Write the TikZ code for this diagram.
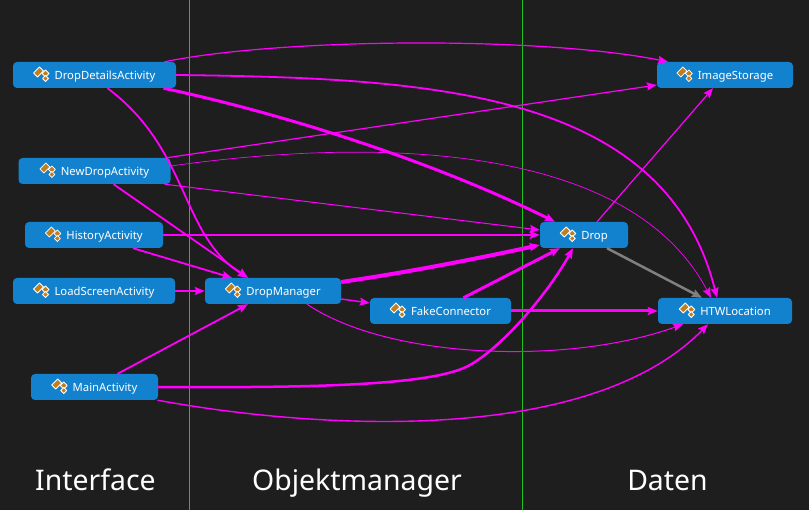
\documentclass[tikz,border=0pt]{standalone}
\usepackage{fontspec}
\setmainfont{Noto Sans}
\usetikzlibrary{arrows.meta}
\definecolor{bgdark}{HTML}{1E1E1E}
\definecolor{nodeblue}{HTML}{1382CE}
\definecolor{iconorange}{HTML}{C27D1E}
\definecolor{linkmagenta}{HTML}{FF00FF}
\definecolor{linkgray}{HTML}{808080}
\definecolor{layerline}{HTML}{1CC41C}
\tikzset{
    classbox/.style={fill=nodeblue,rounded corners=4pt,text=white,inner sep=0pt,minimum height=26pt,
        text height=10pt,text depth=1pt,
        font=\fontsize{11.3}{14}\selectfont,execute at begin node={\hspace*{21pt}}},
    link/.style={-{Stealth[length=10pt,width=8pt,inset=1.5pt]},linkmagenta,line width=#1},
    link/.default=1.8pt,
    layername/.style={text=white,font=\fontsize{28.4}{34}\selectfont,inner sep=0pt,text height=24pt,text depth=4pt},
    iconpart/.style={draw=white,fill=iconorange,line width=.8pt,line join=round},
    classicon/.pic={
        \draw[iconpart] (-8,-1) -- (-2,-7) -- (2,-3) -- (-4,3) -- cycle;
        \draw[iconpart] (4,-4) -- (7.5,-.5) -- (4,3) -- (.5,-.5) -- cycle;
        \draw[iconpart] (4,1.5) -- (7,4.5) -- (4,7.5) -- (1,4.5) -- cycle;
    }
}
\begin{document}
\begin{tikzpicture}[x=1pt,y=-1pt]
\fill[bgdark] (0,0) rectangle (809,510);
\useasboundingbox (0,0) rectangle (809,510);
\coordinate (linetopa) at (189,0);
\coordinate (linebota) at (189,510);
\coordinate (linetopb) at (522,0);
\coordinate (linebotb) at (522,510);
\draw[layerline,line width=.8pt] (linetopa) -- (linebota);
\draw[layerline,line width=.8pt] (linetopb) -- (linebotb);
% classes
\foreach \name/\x/\y/\w/\txt in {
    dda/94.5/75/163/DropDetailsActivity,
    nda/94.5/171/152/NewDropActivity,
    hist/94/235/138/HistoryActivity,
    load/94/291/162/LoadScreenActivity,
    main/94.5/387/127/MainActivity,
    mgr/273/291/136/DropManager,
    fake/440.5/311/141/FakeConnector,
    drop/584/235/88/Drop,
    htw/725/311/134/HTWLocation,
    img/725/75/136/ImageStorage} {
    \node[classbox,minimum width=\w pt] (\name) at (\x,\y) {\txt};
    \pic at ([xshift=8pt,yshift=5.5pt]\name.text) {classicon};
}
% links
\draw[link=1.2pt] ([xshift=70pt]dda.north) .. controls (280,38) and (540,36) .. ([xshift=-57pt]img.north);
\draw[link] (dda.east) .. controls (430,78) and (665,90) .. ([xshift=-8pt]htw.north);
\draw[link=3pt] ([xshift=69pt]dda.south) .. controls (280,113) and (430,160) .. ([xshift=-29pt]drop.north);
\draw[link] ([xshift=13pt]dda.south) .. controls (190,150) and (180,235) .. ([xshift=-25pt]mgr.north);
\draw[link=1.2pt] ([xshift=72pt]nda.north) -- ([yshift=-10pt]img.west);
\draw[link=.7pt] ([yshift=5pt]nda.east) .. controls (320,145) and (620,125) .. ([xshift=-14pt]htw.north);
\draw[link=1pt] ([xshift=70pt]nda.south) -- ([yshift=5pt]drop.west);
\draw[link] ([xshift=19pt]nda.south) -- ([xshift=-25pt]mgr.north);
\draw[link] (hist.east) -- (drop.west);
\draw[link] ([xshift=39pt]hist.south) -- ([xshift=-41pt]mgr.north);
\draw[link] (load.east) -- (mgr.west);
\draw[link] ([xshift=23pt]main.north) -- ([xshift=-25pt]mgr.south);
\draw[link=2.5pt] (main.east) .. controls (320,388) and (435,385) .. (470,365) .. controls (505,345) and (550,290) .. ([xshift=-11pt]drop.south);
\draw[link=1.4pt] ([xshift=63pt]main.south) .. controls (320,430) and (590,445) .. ([xshift=-17pt]htw.south);
\draw[link=4pt] ([yshift=9pt]mgr.east) .. controls (410,272) and (480,258) .. ([yshift=-10pt]drop.west);
\draw[link=1.4pt] ([yshift=-8pt]mgr.east) -- ([yshift=8pt]fake.west);
\draw[link=1pt] ([xshift=34pt]mgr.south) .. controls (390,360) and (570,365) .. ([xshift=-42pt]htw.south);
\draw[link=3pt] ([xshift=23pt]fake.north) -- ([xshift=-24pt]drop.south);
\draw[link=3pt] (fake.east) -- (htw.west);
\draw[-{Stealth[length=10pt,width=8pt,inset=1.5pt]},linkgray,line width=2.5pt] ([xshift=23pt]drop.south) -- ([xshift=-23pt]htw.north);
\draw[link=1.2pt] ([xshift=13pt]drop.north) -- ([xshift=-12pt]img.south);
% layers
\node[layername] (iface) at (95.5,481) {Interface};
\node[layername] (omgr) at (357,481) {Objektmanager};
\node[layername] (daten) at (667.5,481) {Daten};
\end{tikzpicture}
\end{document}
